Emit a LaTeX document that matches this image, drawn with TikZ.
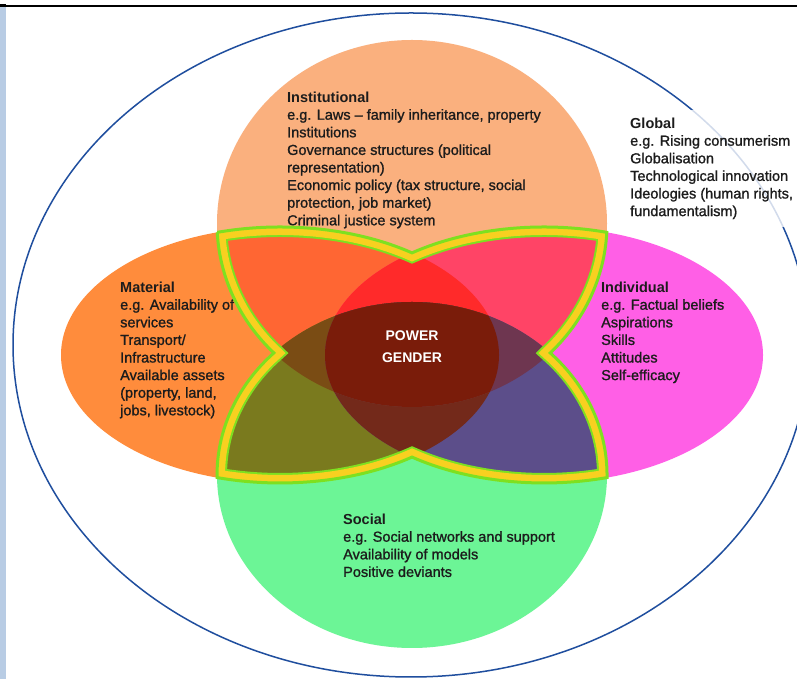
\documentclass[tikz,border=0pt]{standalone}
\usepackage{fontspec}
\setmainfont{Liberation Sans}[UprightFeatures={FakeBold=1.2}]
\definecolor{cT}{HTML}{FAB07E}
\definecolor{cL}{HTML}{FF8C3C}
\definecolor{cR}{HTML}{FF5FE6}
\definecolor{cB}{HTML}{6CF596}
\definecolor{cTL}{HTML}{FF6633}
\definecolor{cTR}{HTML}{FF4466}
\definecolor{cBL}{HTML}{7A7A1E}
\definecolor{cBR}{HTML}{5C4E8A}
\definecolor{cTLR}{HTML}{FF2A2A}
\definecolor{cBLR}{HTML}{73291A}
\definecolor{cTBL}{HTML}{7A4C14}
\definecolor{cTBR}{HTML}{6E3650}
\definecolor{cC}{HTML}{7A1C0A}
\definecolor{byellow}{HTML}{F8D020}
\definecolor{bgreen}{HTML}{7EE020}
\definecolor{outerblue}{HTML}{1F4E9E}
\definecolor{barblue}{HTML}{B8CCE4}
\definecolor{txtc}{HTML}{1C1C1C}
\def\pT{(412,455.5) ellipse [x radius=195, y radius=183.5]}
\def\pB{(412,204) ellipse [x radius=195, y radius=173]}
\def\pL{(280,324) ellipse [x radius=219, y radius=128]}
\def\pR{(544,324) ellipse [x radius=219, y radius=128]}
\def\pFlower{(217.21,446.63)
  arc[start angle=106.66, end angle=52.93, x radius=219, y radius=128]
  arc[start angle=127.07, end angle=73.34, x radius=219, y radius=128]
  arc[start angle=-2.78, end angle=-44.87, x radius=195, y radius=183.5]
  arc[start angle=44.87, end angle=-0.86, x radius=195, y radius=173]
  arc[start angle=-73.29, end angle=-127.07, x radius=219, y radius=128]
  arc[start angle=-52.93, end angle=-106.71, x radius=219, y radius=128]
  arc[start angle=180.86, end angle=135.13, x radius=195, y radius=173]
  arc[start angle=224.87, end angle=182.78, x radius=195, y radius=183.5]
  -- cycle}
\begin{document}
\begin{tikzpicture}[x=1pt,y=1pt,
  txt/.style={anchor=north west, inner sep=0pt, align=left,
    font=\fontsize{14.5}{17.6}\selectfont, text=txtc},
  bandwide/.style={draw=bgreen, line width=2pt, double=byellow,
    double distance=16pt, line join=miter, miter limit=10},
  bandedge/.style={draw=bgreen, line width=3pt, line join=miter, miter limit=10}]
\useasboundingbox (0,0) rectangle (797,679);
\clip (0,0) rectangle (797,679);
\fill[white] (0,0) rectangle (797,679);
% frame decorations
\fill[barblue] (0,0) rectangle (6,673);
\draw[black, line width=1.6pt] (0,673) -- (797,673);
\fill[black] (0,671.5) rectangle (6,674.5);
% outer ellipse
\draw[outerblue, line width=1.5pt] (411,334) ellipse [x radius=398, y radius=332];
% four domains
\fill[cT] \pT;
\fill[cL] \pL;
\fill[cR] \pR;
\fill[cB] \pB;
% texts
\node[txt] (inst) at (287,587.6) {\textbf{Institutional}\\e.g. Laws – family inheritance, property\\Institutions\\Governance structures (political\\representation)\\Economic policy (tax structure, social\\protection, job market)\\Criminal justice system};
\node[txt, fill=white, fill opacity=0.8, text opacity=1, inner sep=8pt] (glob) at (622,569.6) {\textbf{Global}\\e.g. Rising consumerism\\Globalisation\\Technological innovation\\Ideologies (human rights,\\fundamentalism)};
\node[txt] (mat) at (120,397.6) {\textbf{Material}\\e.g. Availability of\\services\\Transport/\\Infrastructure\\Available assets\\(property, land,\\jobs, livestock)};
\node[txt] (indiv) at (601,397.6) {\textbf{Individual}\\e.g. Factual beliefs\\Aspirations\\Skills\\Attitudes\\Self-efficacy};
\node[txt] (soc) at (343,165.6) {\textbf{Social}\\e.g. Social networks and support\\Availability of models\\Positive deviants};
% pairwise overlaps
\begin{scope}
  \clip \pT;
  \fill[cTL] \pL;
  \fill[cTR] \pR;
\end{scope}
\begin{scope}
  \clip \pB;
  \fill[cBL] \pL;
  \fill[cBR] \pR;
\end{scope}
% triple overlaps
\begin{scope}
  \clip \pL; \clip \pR;
  \fill[cTLR] \pT;
  \fill[cBLR] \pB;
\end{scope}
\begin{scope}
  \clip \pT; \clip \pB;
  \fill[cTBL] \pL;
  \fill[cTBR] \pR;
\end{scope}
% centre
\begin{scope}
  \clip \pT; \clip \pB; \clip \pL;
  \fill[cC] \pR;
\end{scope}
% flower outline (band lying mostly inside the flower)
\begin{scope}
  \clip \pFlower;
  \draw[bandwide] \pFlower;
\end{scope}
\draw[bandedge] \pFlower;
\node[font=\bfseries\fontsize{14}{22}\selectfont, text=white, align=center] (pg) at (412,332) {POWER\\GENDER};
\end{tikzpicture}
\end{document}
